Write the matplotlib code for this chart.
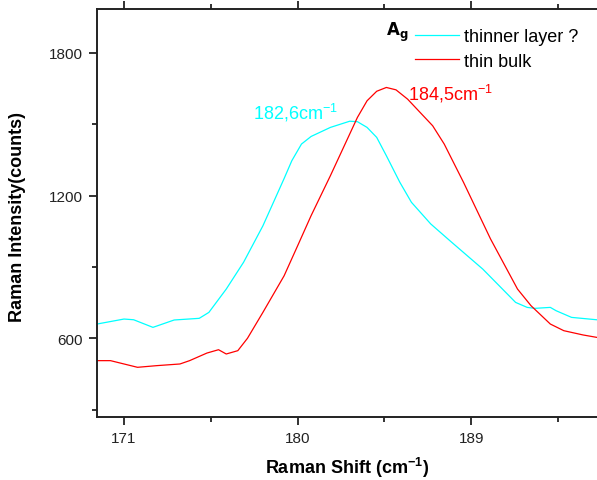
import matplotlib
matplotlib.use("Agg")
import matplotlib.pyplot as plt

plt.rcParams['font.family'] = ['Liberation Sans', 'DejaVu Sans']
plt.rcParams['mathtext.default'] = 'regular'

# Raman spectra
shift_thinner = [169.6, 171.0, 171.5, 172.5, 173.6, 174.9, 175.4, 176.3, 177.2, 178.2,
                 179.3, 179.7, 180.2, 180.7, 181.7, 182.7, 183.1, 183.6, 184.1, 184.6,
                 185.3, 185.9, 186.9, 187.9, 189.6, 191.3, 191.9, 192.3, 193.1, 193.4,
                 194.2, 195.5]
counts_thinner = [660, 681, 678, 646, 677, 684, 709, 807, 920, 1073,
                  1272, 1347, 1417, 1449, 1487, 1513, 1511, 1487, 1445, 1368,
                  1256, 1172, 1081, 1010, 891, 751, 730, 726, 730, 716,
                  688, 678]

shift_bulk = [169.6, 170.3, 171.0, 171.7, 172.7, 173.9, 174.4, 175.3, 175.9, 176.3,
              176.9, 177.4, 178.2, 179.3, 180.0, 180.7, 181.7, 182.7, 183.1, 183.6,
              184.1, 184.6, 185.1, 185.7, 187.0, 187.6, 188.6, 190.0, 191.4, 192.1,
              193.1, 193.8, 194.8, 195.5]
counts_bulk = [506, 506, 492, 478, 485, 492, 506, 538, 552, 534,
               548, 600, 709, 863, 989, 1116, 1284, 1459, 1529, 1599,
               1639, 1655, 1645, 1606, 1494, 1417, 1256, 1018, 807, 737,
               660, 632, 614, 604]

x_ticks = [171, 180, 189]
y_ticks = [600, 1200, 1800]

fig = plt.figure(figsize=(5.97, 4.81), dpi=100)
ax = fig.add_axes([97 / 597, 63 / 481, 500 / 597, 408 / 481])

ax.plot(shift_thinner, counts_thinner, color='#00ffff', lw=0.9, label='thinner layer ?')
ax.plot(shift_bulk, counts_bulk, color='#ff0000', lw=0.9, label='thin bulk')

ax.set_xlim(169.6, 195.52)
ax.set_ylim(269, 1985)
ax.set_xticks(x_ticks)
ax.set_xticks([175.5, 184.5, 193.5], minor=True)
ax.set_yticks(y_ticks)
ax.set_yticks([300, 900, 1500], minor=True)

for s in ['left', 'bottom', 'top']:
    ax.spines[s].set_linewidth(1.4)
    ax.spines[s].set_color('#222222')
ax.spines['right'].set_visible(False)

ax.tick_params(axis='both', which='major', direction='out', length=6, width=1.3,
               labelsize=11, colors='#222222', pad=4)
ax.tick_params(axis='both', which='minor', direction='out', length=3.5, width=1.3,
               colors='#222222')
ax.tick_params(axis='x', which='both', top=True, labeltop=False)

ax.set_xlabel(r'Raman Shift (cm$^{-1}$)', fontsize=13, fontweight='bold')
ax.set_ylabel('Raman Intensity(counts)', fontsize=13, fontweight='bold')
ax.xaxis.set_label_coords(0.5, -0.1225)
ax.xaxis.label.set_va('center')
ax.yaxis.set_label_coords(-0.158, 0.493)
ax.yaxis.label.set_va('center')

ax.text(179.9, 1552, r'182,6cm$^{-1}$', color='#00ffff', fontsize=13,
        ha='center', va='center')
ax.text(187.9, 1630, r'184,5cm$^{-1}$', color='#ff0000', fontsize=13,
        ha='center', va='center')

leg = ax.legend(loc='upper left', bbox_to_anchor=(0.622, 0.97), frameon=False,
                fontsize=13, handlelength=2.4, handletextpad=0.3, labelspacing=0.4,
                borderaxespad=0)
ax.text(0.578, 0.944, r'$\mathbf{A_g}$', transform=ax.transAxes, fontsize=12,
        ha='left', va='center')

fig.savefig('out.png', dpi=100)
